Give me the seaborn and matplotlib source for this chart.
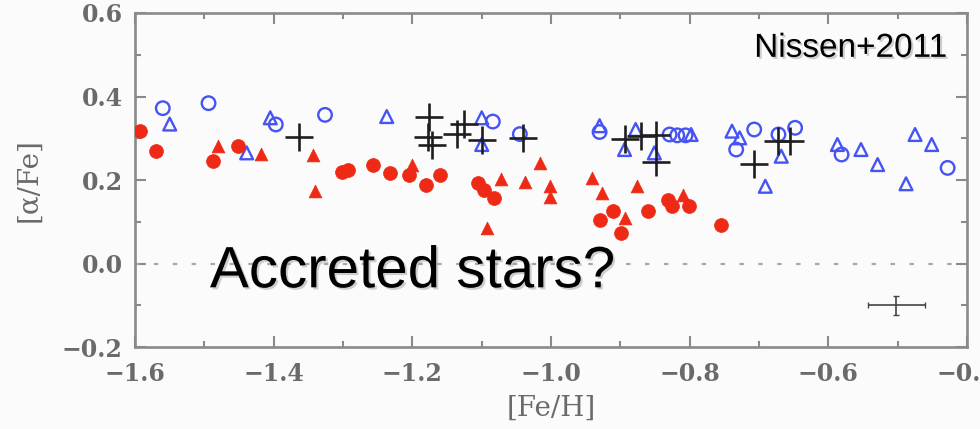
import matplotlib
matplotlib.use("Agg")
import matplotlib.pyplot as plt
import matplotlib.patheffects as pe
from matplotlib.ticker import MultipleLocator, FuncFormatter
import seaborn as sns
import pandas as pd

# [Fe/H], [alpha/Fe] per star group
red_circle_feh = [-1.593, -1.570, -1.488, -1.451, -1.302, -1.293, -1.257, -1.232, -1.205,
                  -1.181, -1.160, -1.105, -1.096, -1.083, -0.930, -0.911, -0.899, -0.860,
                  -0.832, -0.825, -0.801, -0.755]
red_circle_afe = [0.318, 0.269, 0.245, 0.281, 0.219, 0.225, 0.237, 0.217, 0.213,
                  0.187, 0.213, 0.193, 0.177, 0.157, 0.105, 0.125, 0.073, 0.125,
                  0.153, 0.137, 0.137, 0.093]

red_tri_feh = [-1.480, -1.419, -1.343, -1.340, -1.201, -1.092, -1.072, -1.038, -1.016,
               -1.002, -1.002, -0.941, -0.926, -0.893, -0.876, -0.810]
red_tri_afe = [0.281, 0.263, 0.259, 0.173, 0.237, 0.085, 0.203, 0.196, 0.240,
               0.185, 0.160, 0.205, 0.169, 0.109, 0.185, 0.165]

blue_circle_feh = [-1.560, -1.494, -1.397, -1.326, -1.084, -1.045, -0.930, -0.829, -0.818,
                   -0.806, -0.733, -0.707, -0.672, -0.648, -0.581, -0.428]
blue_circle_afe = [0.372, 0.384, 0.333, 0.356, 0.340, 0.310, 0.315, 0.309, 0.307,
                   0.307, 0.273, 0.321, 0.309, 0.325, 0.261, 0.229]

blue_tri_feh = [-1.550, -1.439, -1.405, -1.237, -1.100, -1.100, -0.930, -0.878, -0.894,
                -0.851, -0.798, -0.739, -0.728, -0.691, -0.668, -0.587, -0.553, -0.529,
                -0.488, -0.475, -0.451]
blue_tri_afe = [0.334, 0.265, 0.349, 0.352, 0.349, 0.285, 0.330, 0.321, 0.273,
                0.265, 0.309, 0.317, 0.301, 0.185, 0.257, 0.285, 0.273, 0.237,
                0.191, 0.309, 0.285]

cross_feh = [-1.363, -1.176, -1.178, -1.171, -1.126, -1.135, -1.100, -1.041, -0.893,
             -0.870, -0.848, -0.848, -0.707, -0.673, -0.656]
cross_afe = [0.302, 0.351, 0.304, 0.285, 0.333, 0.311, 0.297, 0.300, 0.299,
             0.306, 0.308, 0.242, 0.239, 0.293, 0.293]

# typical uncertainty marker
err_feh, err_afe = -0.502, -0.100
err_dfeh, err_dafe = 0.041, 0.023

x_ticks = [-1.6, -1.4, -1.2, -1.0, -0.8, -0.6, -0.4]
y_ticks = [-0.2, 0.0, 0.2, 0.4, 0.6]

RED = "#ee2a16"
BLUE = "#4654f4"
GREY = "#8a8a8a"
LABEL_GREY = "#6a6a6a"

sns.set_theme(style="ticks")
plt.rcParams["font.family"] = ["DejaVu Serif"]

fig = plt.figure(figsize=(9.8, 4.29), dpi=100, facecolor="#fafbfa")
ax = fig.add_axes([0.1378, 0.1911, 0.8490, 0.7786], facecolor="#fafbfa")

ax.axhline(0.0, color="#a8a8a8", lw=1.6, ls=(0, (2.0, 6.5)), zorder=1)

df_rc = pd.DataFrame({"feh": red_circle_feh, "afe": red_circle_afe})
df_rt = pd.DataFrame({"feh": red_tri_feh, "afe": red_tri_afe})
df_bc = pd.DataFrame({"feh": blue_circle_feh, "afe": blue_circle_afe})
df_bt = pd.DataFrame({"feh": blue_tri_feh, "afe": blue_tri_afe})
df_cr = pd.DataFrame({"feh": cross_feh, "afe": cross_afe})

sns.scatterplot(data=df_bc, x="feh", y="afe", ax=ax, marker="o", s=95,
                color=BLUE, facecolors="none", edgecolor=BLUE, linewidth=1.7, zorder=3)
sns.scatterplot(data=df_bt, x="feh", y="afe", ax=ax, marker="^", s=85,
                color=BLUE, facecolors="none", edgecolor=BLUE, linewidth=1.7, zorder=3)
sns.scatterplot(data=df_rc, x="feh", y="afe", ax=ax, marker="o", s=100,
                color=RED, edgecolor=RED, linewidth=0.5, zorder=4)
sns.scatterplot(data=df_rt, x="feh", y="afe", ax=ax, marker="^", s=85,
                color=RED, edgecolor=RED, linewidth=0.5, zorder=4)
sns.scatterplot(data=df_cr, x="feh", y="afe", ax=ax, marker="+", s=430,
                color="#1e1e1e", linewidth=1.9, zorder=5)

ax.errorbar([err_feh], [err_afe], xerr=[err_dfeh], yerr=[err_dafe], fmt="none",
            ecolor="#444444", elinewidth=1.2, capsize=2, capthick=1.0, zorder=5)

ax.set_xlim(-1.6, -0.4)
ax.set_ylim(-0.2, 0.6)
ax.set_xticks(x_ticks)
ax.set_yticks(y_ticks)
ax.xaxis.set_minor_locator(MultipleLocator(0.1))
ax.yaxis.set_minor_locator(MultipleLocator(0.1))
fmt = FuncFormatter(lambda v, p: f"{v:.1f}".replace("-", "\u2212"))
ax.xaxis.set_major_formatter(fmt)
ax.yaxis.set_major_formatter(fmt)

for side in ["left", "right", "top", "bottom"]:
    ax.spines[side].set_visible(True)
    ax.spines[side].set_color(GREY)
    ax.spines[side].set_linewidth(1.9)

ax.tick_params(which="both", direction="in", top=True, right=True, color=GREY, width=1.5)
ax.tick_params(which="major", length=8)
ax.tick_params(which="minor", length=4.5)
ax.tick_params(axis="x", which="major", pad=11, labelsize=17, labelcolor=LABEL_GREY)
ax.tick_params(axis="y", which="major", pad=9, labelsize=17, labelcolor=LABEL_GREY)
for lab in ax.get_xticklabels() + ax.get_yticklabels():
    lab.set_fontweight("bold")

ax.set_xlabel("[Fe/H]", fontsize=20, color=LABEL_GREY)
ax.set_ylabel("[α/Fe]", fontsize=20, color=LABEL_GREY)
ax.xaxis.set_label_coords(0.5, -0.183)
ax.xaxis.label.set_va("center")
ax.yaxis.set_label_coords(-0.128, 0.5)
ax.yaxis.label.set_va("center")

shadow = [pe.SimplePatchShadow(offset=(1.5, -1.5), shadow_rgbFace="0.55", alpha=0.4), pe.Normal()]
ax.text(-1.492, -0.057, "Accreted stars?", fontsize=42, family="Liberation Sans",
        color="black", ha="left", va="baseline", zorder=6, path_effects=shadow)
ax.text(-0.4285, 0.495, "Nissen+2011", fontsize=24, family="Liberation Sans",
        color="black", ha="right", va="baseline", zorder=6, path_effects=shadow)

fig.savefig("out.png", dpi=100, facecolor=fig.get_facecolor())
